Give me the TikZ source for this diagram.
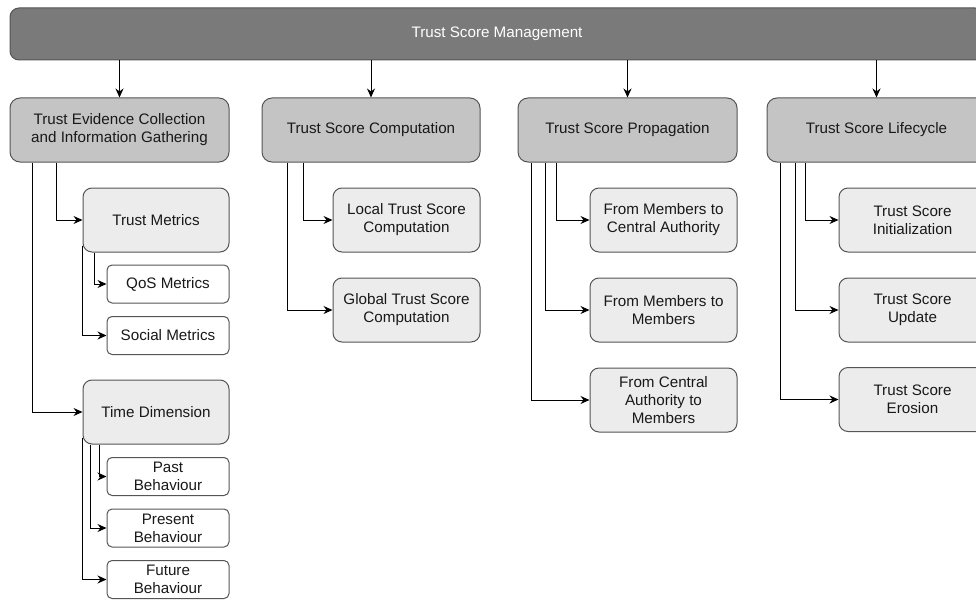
\documentclass[tikz,border=0pt]{standalone}
\usepackage{fontspec}
\setmainfont{Liberation Sans}
\usetikzlibrary{arrows.meta}
\definecolor{barfill}{HTML}{7A7A7A}
\definecolor{lvlonefill}{HTML}{C4C4C4}
\definecolor{lvltwofill}{HTML}{ECECEC}
\definecolor{boxline}{HTML}{555555}
\tikzset{
  base/.style={draw=boxline, line width=1pt, align=center, inner sep=0pt,
    font=\fontsize{15.2pt}{18pt}\selectfont, text=black!90},
  topbar/.style={base, fill=barfill, rounded corners=9pt, minimum width=974pt,
    minimum height=52pt, text=white},
  lvlone/.style={base, fill=lvlonefill, rounded corners=10pt, minimum width=219pt, minimum height=64pt},
  lvltwo/.style={base, fill=lvltwofill, rounded corners=9pt, minimum width=147pt, minimum height=64pt},
  lvlthree/.style={base, fill=white, rounded corners=5pt, minimum width=122pt, minimum height=38pt},
  conn/.style={line width=1pt, -{Stealth[length=9pt,width=8pt]}, black}
}
\begin{document}
\begin{tikzpicture}[x=1pt,y=-1pt]
\useasboundingbox (0,0) rectangle (976,599);
\clip (0,0) rectangle (976,599);
\node[topbar] (bar) at (497,34) {Trust Score Management};
% level one
\node[lvlone] (tec) at (119.5,130) {Trust Evidence Collection\\and Information Gathering};
\node[lvlone, minimum width=218pt] (tsc) at (371,130) {Trust Score Computation};
\node[lvlone] (tsp) at (627.5,130) {Trust Score Propagation};
\node[lvlone] (tsl) at (876.5,130) {Trust Score Lifecycle};
\foreach \n in {tec,tsc,tsp,tsl}
  \draw[conn] (\n.north |- bar.south) -- (\n.north);
% column 1
\node[lvltwo, minimum width=146pt] (tm) at (156,220) {Trust Metrics};
\node[lvlthree] (qos) at (168,284) {QoS Metrics};
\node[lvlthree] (soc) at (168,335.5) {Social Metrics};
\node[lvltwo, minimum width=146pt] (td) at (156,412) {Time Dimension};
\node[lvlthree] (past) at (168,476.5) {Past\\Behaviour};
\node[lvlthree] (pres) at (168,528) {Present\\Behaviour};
\node[lvlthree] (fut) at (168,579.5) {Future\\Behaviour};
\draw[conn] ([xshift=47pt]tec.south west) |- (tm.west);
\draw[conn] ([xshift=23pt]tec.south west) |- (td.west);
\draw[conn] ([xshift=12pt]tm.south west) |- (qos.west);
\draw[conn] ([yshift=7pt]tm.south west) |- (soc.west);
\draw[conn] ([xshift=17pt]td.south west) |- (past.west);
\draw[conn] ([xshift=8pt]td.south west) |- (pres.west);
\draw[conn] ([yshift=7pt]td.south west) |- (fut.west);
% column 2
\node[lvltwo] (loc) at (406.5,220) {Local Trust Score\\Computation};
\node[lvltwo] (glo) at (406.5,310) {Global Trust Score\\Computation};
\draw[conn] ([xshift=42pt]tsc.south west) |- (loc.west);
\draw[conn] ([xshift=26pt]tsc.south west) |- (glo.west);
% column 3
\node[lvltwo] (mca) at (663.5,220) {From Members to\\Central Authority};
\node[lvltwo] (mm) at (663.5,310) {From Members to\\Members};
\node[lvltwo] (cam) at (663.5,400) {From Central\\Authority to\\Members};
\draw[conn] ([xshift=39pt]tsp.south west) |- (mca.west);
\draw[conn] ([xshift=28pt]tsp.south west) |- (mm.west);
\draw[conn] ([xshift=14pt]tsp.south west) |- (cam.west);
% column 4
\node[lvltwo] (ini) at (912.5,220) {Trust Score\\Initialization};
\node[lvltwo] (upd) at (912.5,310) {Trust Score\\Update};
\node[lvltwo] (ero) at (912.5,399.5) {Trust Score\\Erosion};
\draw[conn] ([xshift=39pt]tsl.south west) |- (ini.west);
\draw[conn] ([xshift=29pt]tsl.south west) |- (upd.west);
\draw[conn] ([xshift=14pt]tsl.south west) |- (ero.west);
\end{tikzpicture}
\end{document}
